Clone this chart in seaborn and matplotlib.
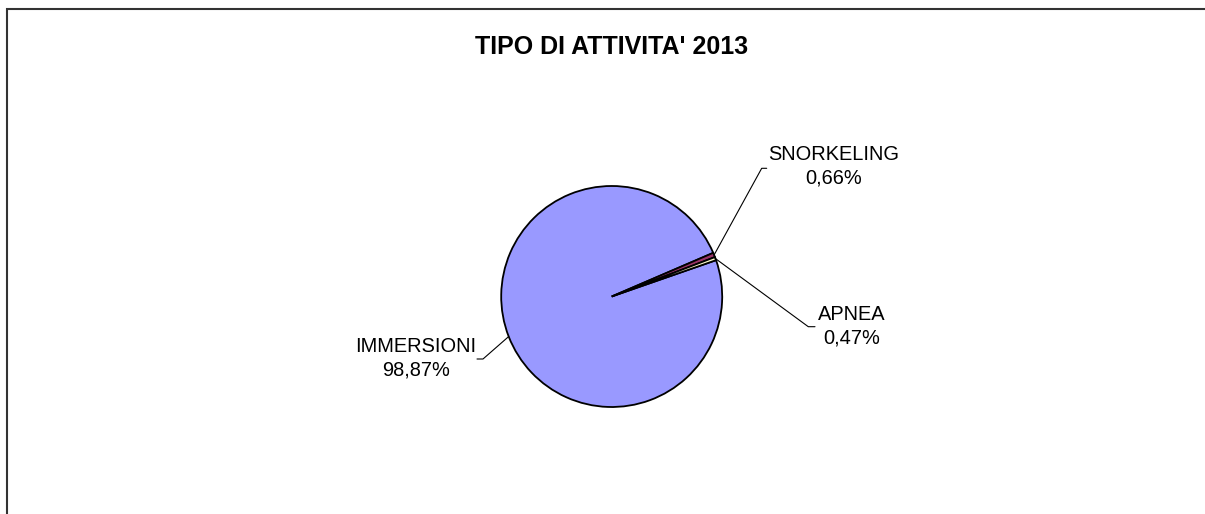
import numpy as np
import matplotlib
matplotlib.use("Agg")
import matplotlib.pyplot as plt
import seaborn as sns

categories = ["IMMERSIONI", "SNORKELING", "APNEA"]
shares = [98.87, 0.66, 0.47]
pct_labels = ["98,87%", "0,66%", "0,47%"]
title = "TIPO DI ATTIVITA' 2013"

sns.set_theme(style="white")
plt.rcParams["font.family"] = ["Liberation Sans", "DejaVu Sans"]
colors = sns.color_palette(["#9999FF", "#993366", "#FFFFCC"])

W, H = 1205, 514
fig = plt.figure(figsize=(W / 100, H / 100), dpi=100)
ax = fig.add_axes([0, 0, 1, 1])

# chart-area frame (only top and left edges fall inside the canvas)
ax.plot([6.5, 6.5, W + 5], [-5, H - 9, H - 9], color="#333333", lw=1.5,
        solid_capstyle="butt", solid_joinstyle="miter")

ax.text(611.5, H - 47, title, ha="center", va="center",
        fontsize=18, fontweight="bold", color="black")

cx, cy, r = 611.7, H - 296.5, 110.5
wedges, _ = ax.pie(shares, colors=colors, startangle=19.2, counterclock=False,
                   center=(cx, cy), radius=r, frame=True,
                   wedgeprops=dict(edgecolor="black", linewidth=1.3))
ax.set_xlim(0, W)
ax.set_ylim(0, H)
ax.set_aspect("auto")
ax.axis("off")

# label layout: elbow point, end of horizontal stub, text centre
layout = {
    "IMMERSIONI": dict(elbow=(483, 359), stub=(477, 359), text=(416, 358.5)),
    "SNORKELING": dict(elbow=(761.7, 168.3), stub=(766.7, 168.3), text=(834, 166.5)),
    "APNEA": dict(elbow=(808.3, 326.7), stub=(815, 326.7), text=(852, 326)),
}
for w, cat, pl in zip(wedges, categories, pct_labels):
    mid = np.deg2rad((w.theta1 + w.theta2) / 2)
    sx, sy = cx + r * np.cos(mid), cy + r * np.sin(mid)
    lay = layout[cat]
    ex, ey = lay["elbow"]
    tx, ty = lay["stub"]
    ax.plot([sx, ex, tx], [sy, H - ey, H - ty], color="black", lw=0.8)
    ax.text(lay["text"][0], H - lay["text"][1], f"{cat}\n{pl}", ha="center",
            va="center", fontsize=14.4, color="black", linespacing=1.3)

fig.savefig("out.png", dpi=100, facecolor="white")
